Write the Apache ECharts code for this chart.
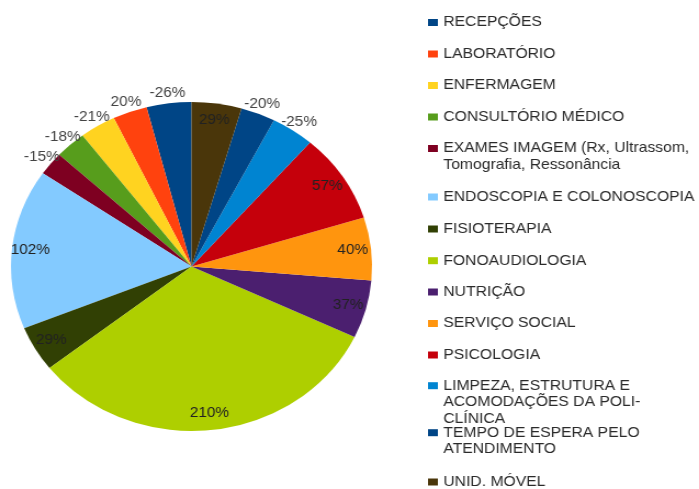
<!DOCTYPE html>
<html>
<head>
<meta charset="utf-8">
<script src="https://cdn.jsdelivr.net/npm/echarts@6/dist/echarts.min.js"></script>
<style>
  html, body { margin: 0; padding: 0; background: #fff; overflow: hidden; }
  /* the source picture is stretched sideways, so the chart is too */
  #chart { width: 637px; height: 489px; transform: scaleX(1.0974); transform-origin: 0 0; }
</style>
</head>
<body>
<div id="chart"></div>
<script>
var categories = [
  'RECEPÇÕES',
  'LABORATÓRIO',
  'ENFERMAGEM',
  'CONSULTÓRIO MÉDICO',
  'EXAMES IMAGEM (Rx, Ultrassom,\nTomografia, Ressonância',
  'ENDOSCOPIA E COLONOSCOPIA',
  'FISIOTERAPIA',
  'FONOAUDIOLOGIA',
  'NUTRIÇÃO',
  'SERVIÇO SOCIAL',
  'PSICOLOGIA',
  'LIMPEZA, ESTRUTURA E\nACOMODAÇÕES DA POLI-\nCLÍNICA',
  'TEMPO DE ESPERA PELO\nATENDIMENTO',
  'UNID. MÓVEL'
];
var percents = [-26, 20, -21, -18, -15, 102, 29, 210, 37, 40, 57, -25, -20, 29];
var colors = [
  '#004586', '#ff420e', '#ffd320', '#579d1c', '#7e0021', '#83caff', '#314004',
  '#aecf00', '#4b1f6f', '#ff950e', '#c5000b', '#0084d1', '#004586', '#4a360a'
];

var cx = 174.5, cy = 266.5, R = 164.5;
var lineH = 16.5;
// y of the first text line of each legend entry
var legendRows = [22.5, 54, 85.5, 117, 148.5, 197, 229, 260.7, 292, 323.5, 355, 385.7, 432.7, 482];

var chart = echarts.init(document.getElementById('chart'));

function pctLabel(p) {
  return percents[p.dataIndex] + '%';
}
function isBig(i) {
  return Math.abs(percents[i]) >= 29;
}

var sliceData = categories.map(function (name, i) {
  return { name: name, value: Math.abs(percents[i]), itemStyle: { color: colors[i] } };
});
var innerLabels = percents.map(function (v, i) {
  return { value: Math.abs(v), label: { show: isBig(i) } };
});
var outerLabels = percents.map(function (v, i) {
  return { value: Math.abs(v), label: { show: !isBig(i) } };
});

// legend icon sits on the first line: pad the text with empty lines above so
// the first real line ends up in the vertical middle of the block
var legends = categories.map(function (name, i) {
  var n = name.split('\n').length;
  var pad = new Array(n).join('\n');
  return {
    orient: 'vertical',
    left: 390,
    top: legendRows[i] - (2 * n - 1) * lineH / 2,
    padding: 0,
    icon: 'rect',
    itemWidth: 9,
    itemHeight: 7,
    data: [name],
    formatter: function (s) { return pad + s; },
    textStyle: {
      fontSize: 14.3,
      fontFamily: 'Liberation Sans',
      color: '#2a2a2a',
      lineHeight: lineH
    }
  };
});

var ringBase = {
  type: 'pie',
  silent: true,
  center: [cx, cy],
  startAngle: 90,
  clockwise: false,
  itemStyle: { color: 'transparent', borderWidth: 0 },
  labelLine: { show: false },
  emphasis: { disabled: true }
};

var option = {
  animation: false,
  backgroundColor: '#fff',
  legend: legends,
  series: [
    {
      type: 'pie',
      center: [cx, cy],
      radius: [0, R],
      startAngle: 90,
      clockwise: false,
      itemStyle: { borderWidth: 0 },
      label: { show: false },
      labelLine: { show: false },
      emphasis: { scale: false },
      data: sliceData
    },
    Object.assign({}, ringBase, {
      radius: [125, R],
      label: {
        position: 'inside',
        formatter: pctLabel,
        fontSize: 14,
        fontFamily: 'Liberation Sans',
        color: '#222'
      },
      data: innerLabels
    }),
    Object.assign({}, ringBase, {
      radius: [R, 179],
      label: {
        position: 'inside',
        formatter: pctLabel,
        fontSize: 14,
        fontFamily: 'Liberation Sans',
        color: '#444'
      },
      data: outerLabels
    })
  ]
};

chart.setOption(option);
</script>
</body>
</html>
